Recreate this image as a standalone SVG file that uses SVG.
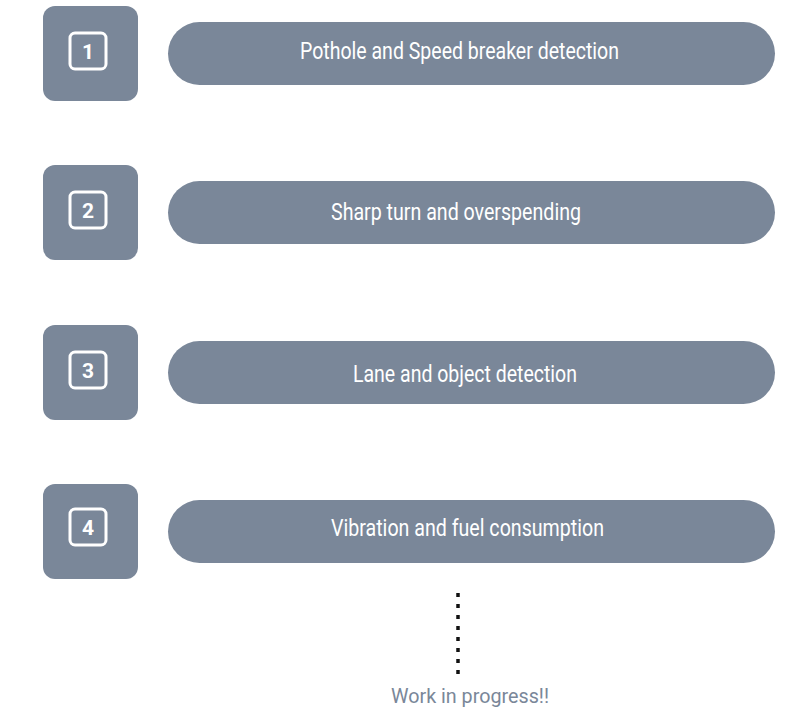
<svg xmlns="http://www.w3.org/2000/svg" width="812" height="718" viewBox="0 0 812 718">
<style>
.box{fill:#7a8799}
.pill{fill:#7a8799}
.inner{fill:none;stroke:#ffffff;stroke-width:3}
.num{font-family:Roboto,"Liberation Sans",sans-serif;font-weight:bold;font-size:21px;fill:#ffffff;text-anchor:middle}
.lbl{font-family:Roboto,"Liberation Sans",sans-serif;font-size:23px;fill:#ffffff}
.wip{font-family:Roboto,"Liberation Sans",sans-serif;font-size:21px;fill:#7a8799}
</style>
<rect width="812" height="718" fill="#ffffff"/>
<g id="node1">
<rect class="box" x="43" y="6" width="95" height="95" rx="12"/>
<rect class="inner" x="70" y="33" width="36" height="36" rx="5"/>
<text class="num" x="88" y="58.5">1</text>
<rect class="pill" x="168" y="22" width="607" height="63" rx="31.5"/>
<text class="lbl" x="300" y="58.5" textLength="319" lengthAdjust="spacingAndGlyphs">Pothole and Speed breaker detection</text>
</g>
<g id="node2">
<rect class="box" x="43" y="165" width="95" height="95" rx="12"/>
<rect class="inner" x="70" y="192" width="36" height="36" rx="5"/>
<text class="num" x="88" y="218">2</text>
<rect class="pill" x="168" y="181" width="607" height="63" rx="31.5"/>
<text class="lbl" x="331" y="219.5" textLength="250" lengthAdjust="spacingAndGlyphs">Sharp turn and overspending</text>
</g>
<g id="node3">
<rect class="box" x="43" y="325" width="95" height="95" rx="12"/>
<rect class="inner" x="70" y="352" width="36" height="36" rx="5"/>
<text class="num" x="88" y="378">3</text>
<rect class="pill" x="168" y="341" width="607" height="63" rx="31.5"/>
<text class="lbl" x="353" y="381.5" textLength="224" lengthAdjust="spacingAndGlyphs">Lane and object detection</text>
</g>
<g id="node4">
<rect class="box" x="43" y="484" width="95" height="95" rx="12"/>
<rect class="inner" x="70" y="509" width="36" height="36" rx="5"/>
<text class="num" x="88" y="535">4</text>
<rect class="pill" x="168" y="500" width="607" height="63" rx="31.5"/>
<text class="lbl" x="331" y="535.5" textLength="273" lengthAdjust="spacingAndGlyphs">Vibration and fuel consumption</text>
</g>
<g id="connectors">
<line x1="458" y1="593" x2="458" y2="676" stroke="#111111" stroke-width="3.5" stroke-dasharray="4 7"/>
</g>
<g id="wip">
<text class="wip" x="391" y="703" textLength="158" lengthAdjust="spacingAndGlyphs">Work in progress!!</text>
</g>
</svg>
